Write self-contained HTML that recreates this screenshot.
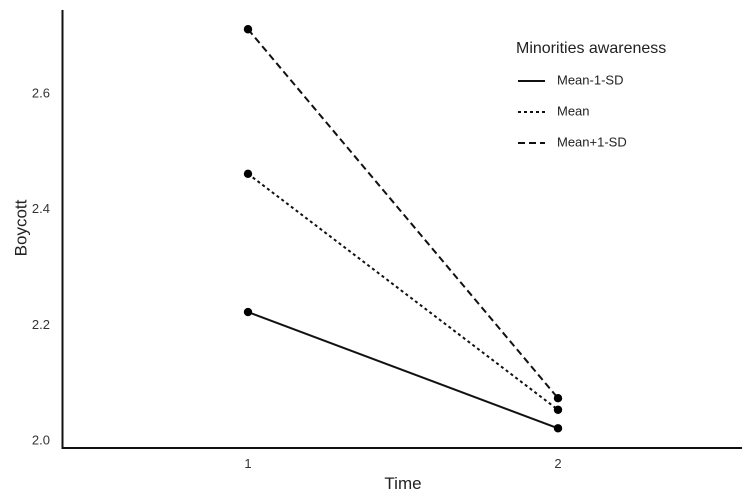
<!DOCTYPE html>
<html><head><meta charset="utf-8"><style>
body{margin:0;background:#fff}
svg{display:block;font-family:"Liberation Sans",Arial,sans-serif}
</style></head><body>
<svg id="chart" width="754" height="503">
<line x1="62.5" y1="10" x2="62.5" y2="449" stroke="#111" stroke-width="2"/>
<line x1="62" y1="448" x2="742" y2="448" stroke="#111" stroke-width="2"/>
<text x="22" y="228" transform="rotate(-90 22 228)" text-anchor="middle" dominant-baseline="middle" font-size="17" fill="#222">Boycott</text>
<text x="403" y="489" text-anchor="middle" font-size="17" fill="#222">Time</text>
<g id="yticks"></g><g id="xticks"></g><g id="series"></g>
<g>
<text x="516" y="53" font-size="16" fill="#222">Minorities awareness</text>
<g id="legend"></g>
</g>
</svg>
<script>
const categories=[1,2];
const seriesNames=["Mean-1-SD","Mean","Mean+1-SD"];
const lowValues=[2.223,2.022];
const meanValues=[2.462,2.054];
const highValues=[2.712,2.074];
const yTicks=[2.0,2.2,2.4,2.6];
const yTickLabels=["2.0","2.2","2.4","2.6"];
const NS="http://www.w3.org/2000/svg";
function xs(c){return 248+(c-1)*310;}
function ys(v){return 441-(v-2.0)*578.3;}
function mk(t,a,p){const e=document.createElementNS(NS,t);for(const k in a)e.setAttribute(k,a[k]);p.appendChild(e);return e;}
const yt=document.getElementById('yticks');
yTicks.forEach((v,i)=>{const t=mk('text',{x:50,y:ys(v),'text-anchor':'end','dominant-baseline':'middle','font-size':13,fill:'#333'},yt);t.textContent=yTickLabels[i];

});
const xt=document.getElementById('xticks');
categories.forEach(c=>{const t=mk('text',{x:xs(c),y:468,'text-anchor':'middle','font-size':13,fill:'#333'},xt);t.textContent=String(c);

});
const dashes=["none","3,3","7,4"];
const all=[lowValues,meanValues,highValues];
const sg=document.getElementById('series');
all.forEach((vals,si)=>{
const l=mk('line',{x1:xs(categories[0]),y1:ys(vals[0]),x2:xs(categories[1]),y2:ys(vals[1]),stroke:'#111','stroke-width':2,'stroke-dasharray':dashes[si]},sg);


vals.forEach((v,i)=>{const c=mk('circle',{cx:xs(categories[i]),cy:ys(v),r:4.2,fill:'#000'},sg);

});
});
const lg=document.getElementById('legend');
seriesNames.forEach((n,i)=>{const y=81+i*31;
const l=mk('line',{x1:518,y1:y,x2:545,y2:y,stroke:'#111','stroke-width':2,'stroke-dasharray':dashes[i]},lg);


const t=mk('text',{x:557,y:y,'dominant-baseline':'middle','font-size':13,fill:'#222'},lg);t.textContent=n;

});
</script>
</body></html>
